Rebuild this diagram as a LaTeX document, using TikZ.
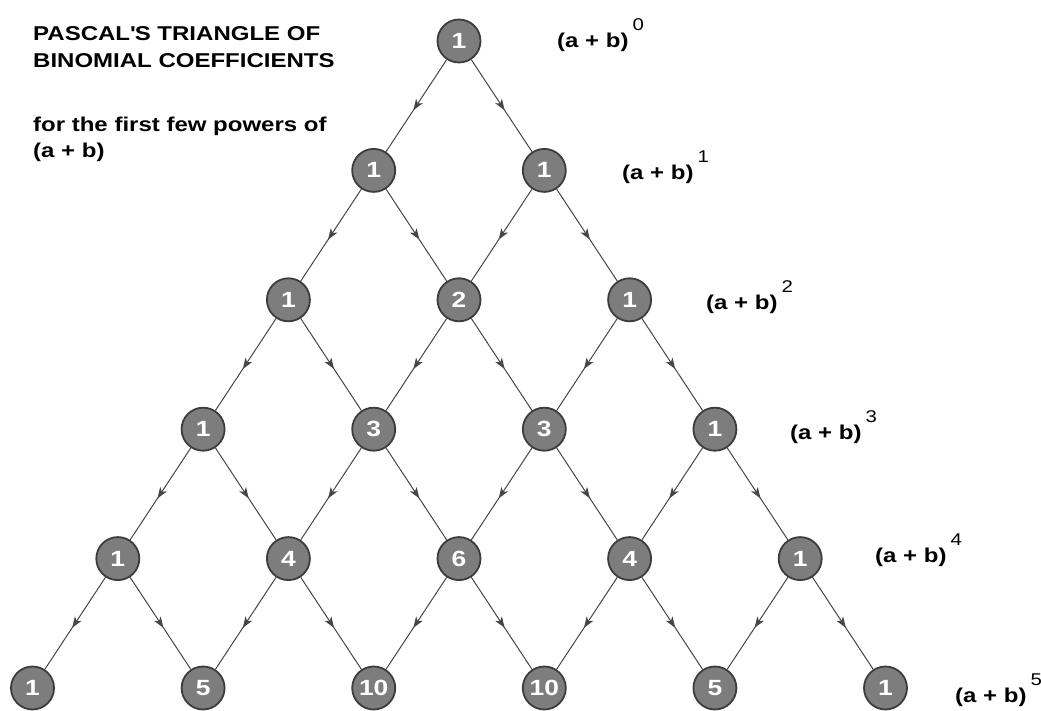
\documentclass[tikz,border=0pt]{standalone}
\usepackage{fontspec}
\setmainfont{Liberation Sans}[FakeStretch=1.2]
\usepackage{xcolor}
\definecolor{NodeGray}{RGB}{125,125,125}
\definecolor{RimGray}{RGB}{60,60,60}
\definecolor{LineGray}{RGB}{70,70,70}
\usetikzlibrary{positioning,arrows.meta,decorations.markings}

\newcommand{\pw}[1]{(a + b)\kern4pt\raisebox{17pt}{\mdseries\fontsize{17}{17}\selectfont #1}}

\begin{document}
\begin{tikzpicture}[x=1pt, y=-1pt,
    num/.style={circle, draw=RimGray, fill=NodeGray, line width=1.8pt, minimum size=43pt,
              inner sep=0pt, text=white, font=\fontsize{22}{22}\selectfont\bfseries},
    pow/.style={anchor=base west, inner sep=0pt, font=\fontsize{20}{20}\selectfont\bfseries},
    edge/.style={draw=LineGray, line width=1pt, postaction={decorate},
              decoration={markings, mark=at position 0.55 with {\arrow{Stealth[length=11pt,width=8pt,inset=3pt]}}}},
    node distance=129.4pt and 85.3pt, on grid
]
    \useasboundingbox (0,0) rectangle (1041,711);

    % title
    \node[anchor=base west, inner sep=0pt, align=left, font=\fontsize{20}{27}\selectfont\bfseries]
        (title) at (33,68) {PASCAL\textquotesingle S TRIANGLE OF\\ BINOMIAL COEFFICIENTS};
    \node[anchor=base west, inner sep=0pt, align=left, font=\fontsize{20}{26}\selectfont\bfseries]
        (sub) at (33,158) {for the first few powers of\\ (a + b)};

    % the triangle
    \node[num] (n0-0) at (459,41) {1};
    \node[num, below left=of n0-0] (n1-0) {1};
    \node[num, below right=of n0-0] (n1-1) {1};
    \node[num, below left=of n1-0] (n2-0) {1};
    \node[num, below right=of n1-0] (n2-1) {2};
    \node[num, below right=of n1-1] (n2-2) {1};
    \node[num, below left=of n2-0] (n3-0) {1};
    \node[num, below right=of n2-0] (n3-1) {3};
    \node[num, below right=of n2-1] (n3-2) {3};
    \node[num, below right=of n2-2] (n3-3) {1};
    \node[num, below left=of n3-0] (n4-0) {1};
    \node[num, below right=of n3-0] (n4-1) {4};
    \node[num, below right=of n3-1] (n4-2) {6};
    \node[num, below right=of n3-2] (n4-3) {4};
    \node[num, below right=of n3-3] (n4-4) {1};
    \node[num, below left=of n4-0] (n5-0) {1};
    \node[num, below right=of n4-0] (n5-1) {5};
    \node[num, below right=of n4-1] (n5-2) {10};
    \node[num, below right=of n4-2] (n5-3) {10};
    \node[num, below right=of n4-3] (n5-4) {5};
    \node[num, below right=of n4-4] (n5-5) {1};

    \foreach \r in {0,...,4} {
        \pgfmathtruncatemacro{\s}{\r+1}
        \foreach \k in {0,...,\r} {
            \pgfmathtruncatemacro{\j}{\k+1}
            \draw[edge] (n\r-\k) -- (n\s-\k);
            \draw[edge] (n\r-\k) -- (n\s-\j);
        }
    }

    % powers
    \node[pow] (p0) at (557,48) {\pw{0}};
    \node[pow] (p1) at (622,180) {\pw{1}};
    \node[pow] (p2) at (706,309) {\pw{2}};
    \node[pow] (p3) at (790,439) {\pw{3}};
    \node[pow] (p4) at (875,562) {\pw{4}};
    \node[pow] (p5) at (955,702) {\pw{5}};
\end{tikzpicture}
\end{document}
